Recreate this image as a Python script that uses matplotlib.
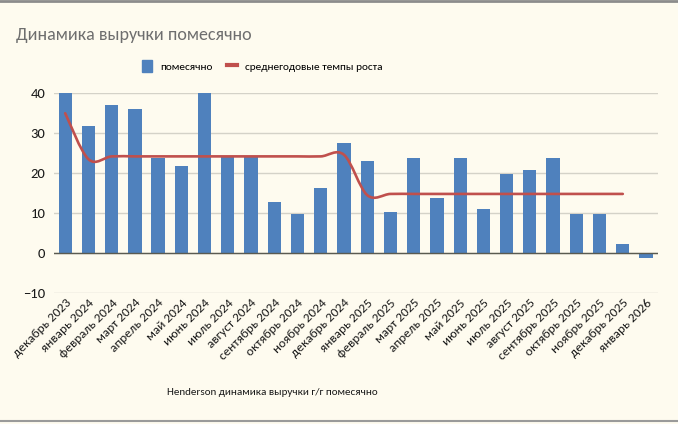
import numpy as np
import matplotlib
matplotlib.use("Agg")
import matplotlib.pyplot as plt
from matplotlib.path import Path
from matplotlib.patches import PathPatch, Patch
from matplotlib.lines import Line2D

# Carlito = Calibri metrics, has cyrillic
plt.rcParams['font.family'] = ['Carlito', 'DejaVu Sans']

# -----------------------------
# data
# -----------------------------
months = [
    "декабрь 2023", "январь 2024", "февраль 2024", "март 2024", "апрель 2024",
    "май 2024", "июнь 2024", "июль 2024", "август 2024", "сентябрь 2024",
    "октябрь 2024", "ноябрь 2024", "декабрь 2024", "январь 2025", "февраль 2025",
    "март 2025", "апрель 2025", "май 2025", "июнь 2025", "июль 2025",
    "август 2025", "сентябрь 2025", "октябрь 2025", "ноябрь 2025", "декабрь 2025",
    "январь 2026",
]
monthly = [40.0, 31.9, 37.0, 36.1, 23.8, 21.8, 40.0, 24.1, 24.1, 12.7,
           9.9, 16.2, 27.6, 23.1, 10.2, 23.8, 13.9, 23.8, 11.1, 19.9,
           20.8, 23.8, 9.7, 9.7, 2.3, -1.2]
avg_growth = [35.0, 23.5, 24.2, 24.2, 24.2, 24.2, 24.2, 24.2, 24.2, 24.2,
              24.2, 24.2, 24.6, 14.5, 14.8, 14.8, 14.8, 14.8, 14.8, 14.8,
              14.8, 14.8, 14.8, 14.8, 14.8]

bg = "#FEFBEF"
blue = "#4F81BD"
red = "#C0504D"

fig = plt.figure(figsize=(6.78, 4.24), dpi=100, facecolor=bg)
ax = fig.add_axes([0.079, 0.309, 0.891, 0.471], facecolor=bg)

x = np.arange(len(months))
ax.bar(x, monthly, width=0.57, color=blue, zorder=3)

# smoothed line like excel
pts = np.column_stack([np.arange(len(avg_growth)), avg_growth]).astype(float)
verts = [pts[0]]
codes = [Path.MOVETO]
n = len(pts)
for i in range(n - 1):
    p0 = pts[i - 1] if i > 0 else pts[i]
    p1 = pts[i]
    p2 = pts[i + 1]
    p3 = pts[i + 2] if i + 2 < n else pts[i + 1]
    verts += [p1 + (p2 - p0) / 6, p2 - (p3 - p1) / 6, p2]
    codes += [Path.CURVE4] * 3
ax.add_patch(PathPatch(Path(verts, codes), fill=False, edgecolor=red,
                       lw=1.9, zorder=4, capstyle='round'))

ax.set_xlim(-0.5, len(months) - 0.5)
ax.set_ylim(-10, 40)
ax.set_yticks([-10, 0, 10, 20, 30, 40])
ax.yaxis.grid(True, color="#D4D2C8", lw=1.0, zorder=0)
ax.axhline(0, color="#5A5A50", lw=1.0, zorder=5)
for s in ax.spines.values():
    s.set_visible(False)

ax.tick_params(axis='y', length=0, labelsize=10.5, colors="#1A1A1A", pad=6)
ax.set_xticks(x)
ax.set_xticklabels(months, rotation=45, ha='right', rotation_mode='anchor',
                   fontsize=9.5, color="#1A1A1A")
ax.tick_params(axis='x', length=0, pad=3)

fig.text(0.024, 0.918, "Динамика выручки помесячно", fontsize=13,
         color="#6E6E6E", va='center', ha='left')

handles = [Patch(color=blue), Line2D([], [], color=red, lw=3)]
fig.legend(handles, ["помесячно", "среднегодовые темпы роста"],
           loc='center', bbox_to_anchor=(0.387, 0.844), ncol=2, frameon=False,
           fontsize=8.2, handlelength=0.85, handleheight=1.3, columnspacing=1.3,
           handletextpad=0.7)

fig.text(0.401, 0.075, "Henderson динамика выручки г/г помесячно",
         fontsize=8, ha='center', va='center', color="#1A1A1A")

fig.add_artist(Line2D([0, 1], [0.998, 0.998], color="#8C8C8C", lw=2,
                      transform=fig.transFigure))
fig.add_artist(Line2D([0, 1], [0.007, 0.007], color="#9A9A9A", lw=1.5,
                      transform=fig.transFigure))

fig.savefig("out.png", dpi=100, facecolor=bg)
